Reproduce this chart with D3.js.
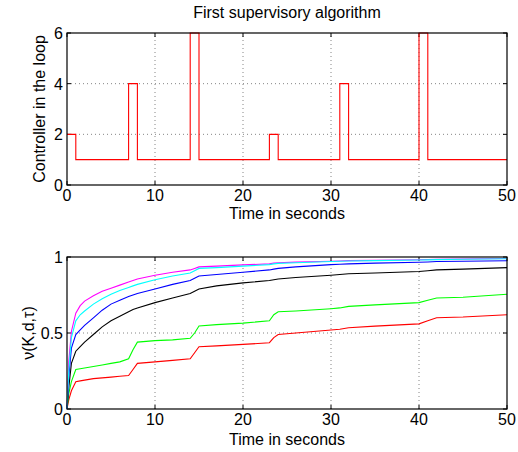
<!DOCTYPE html>
<html>
<head>
<meta charset="utf-8">
<script src="https://cdn.jsdelivr.net/npm/d3@7/dist/d3.min.js"></script>
<style>
  body { margin: 0; background: #fff; }
  svg { font-family: "Liberation Sans", Arial, Helvetica, sans-serif; }
</style>
</head>
<body>
<script>
// controller switching (step times and controller index)
const switchTimes = [0, 1, 7, 8, 14, 15, 23, 24, 31, 32, 40, 41, 50];
const controller  = [2, 1, 4, 1, 6, 1, 2, 1, 4, 1, 6, 1, 1];

// time samples for the lower plot
const time = [0, 0.2, 0.5, 1, 1.5, 2, 3, 4, 5, 6, 7, 7.5, 8, 10, 12, 14, 14.5, 15, 17, 20,
  23, 23.5, 24, 26, 30, 31, 32, 35, 40, 41, 42, 45, 50];

const nuRed = [0, 0.06, 0.12, 0.18, 0.185, 0.19, 0.20, 0.205, 0.21, 0.215, 0.22, 0.26, 0.30,
  0.31, 0.32, 0.33, 0.37, 0.41, 0.415, 0.425, 0.436, 0.47, 0.49, 0.50, 0.52, 0.525, 0.535,
  0.545, 0.56, 0.58, 0.60, 0.605, 0.62];
const nuGreen = [0, 0.10, 0.18, 0.26, 0.265, 0.27, 0.28, 0.29, 0.30, 0.31, 0.33, 0.39, 0.44,
  0.45, 0.455, 0.465, 0.50, 0.546, 0.555, 0.565, 0.58, 0.62, 0.64, 0.645, 0.66, 0.665, 0.675,
  0.685, 0.70, 0.715, 0.73, 0.735, 0.755];
const nuBlack = [0, 0.14, 0.30, 0.38, 0.41, 0.44, 0.49, 0.54, 0.58, 0.61, 0.64, 0.655, 0.665,
  0.70, 0.73, 0.76, 0.775, 0.79, 0.81, 0.83, 0.845, 0.85, 0.855, 0.865, 0.88, 0.885, 0.89,
  0.895, 0.905, 0.91, 0.915, 0.92, 0.93];
const nuBlue = [0, 0.21, 0.40, 0.49, 0.52, 0.55, 0.60, 0.65, 0.69, 0.715, 0.74, 0.75, 0.76,
  0.79, 0.82, 0.845, 0.86, 0.875, 0.885, 0.90, 0.915, 0.92, 0.925, 0.935, 0.95, 0.952, 0.955,
  0.96, 0.965, 0.967, 0.97, 0.972, 0.975];
const nuMagenta = [0, 0.31, 0.51, 0.63, 0.68, 0.71, 0.745, 0.775, 0.795, 0.815, 0.835, 0.845,
  0.855, 0.88, 0.90, 0.915, 0.925, 0.935, 0.94, 0.948, 0.955, 0.96, 0.962, 0.966, 0.972,
  0.974, 0.976, 0.978, 0.982, 0.984, 0.985, 0.987, 0.99];
const nuCyan = [0, 0.25, 0.47, 0.58, 0.62, 0.645, 0.69, 0.725, 0.755, 0.78, 0.80, 0.81, 0.82,
  0.85, 0.875, 0.895, 0.91, 0.925, 0.93, 0.94, 0.95, 0.955, 0.958, 0.962, 0.97, 0.972, 0.974,
  0.976, 0.98, 0.981, 0.983, 0.985, 0.988];

const xTicks = [0, 10, 20, 30, 40, 50];
const topYTicks = [0, 2, 4, 6];
const botYTicks = [0, 0.5, 1];

const series = [
  { values: nuRed, color: "#ff0000" },
  { values: nuGreen, color: "#00ff00" },
  { values: nuBlack, color: "#000000" },
  { values: nuBlue, color: "#0000ff" },
  { values: nuMagenta, color: "#ff00ff" },
  { values: nuCyan, color: "#00ffff" }
];

const W = 518, H = 452;
const svg = d3.select("body").append("svg").attr("width", W).attr("height", H);

const x = d3.scaleLinear().domain([0, 50]).range([67, 507]);

// draws box, grid, inward ticks and labels for one panel
function panel(y, yTicks, yFmt) {
  const g = svg.append("g");
  const [y0, y1] = y.range();
  // grid
  g.selectAll(".vg").data(xTicks.slice(1, -1)).enter().append("line")
    .attr("x1", d => x(d)).attr("x2", d => x(d)).attr("y1", y0).attr("y2", y1)
    .attr("stroke", "#666").attr("stroke-width", 0.8).attr("stroke-dasharray", "1,3");
  g.selectAll(".hg").data(yTicks.slice(1, -1)).enter().append("line")
    .attr("y1", d => y(d)).attr("y2", d => y(d)).attr("x1", 67).attr("x2", 507)
    .attr("stroke", "#666").attr("stroke-width", 0.8).attr("stroke-dasharray", "1,3");
  // inward ticks
  xTicks.forEach(t => {
    g.append("line").attr("x1", x(t)).attr("x2", x(t)).attr("y1", y0).attr("y2", y0 - 4).attr("stroke", "#000");
    g.append("line").attr("x1", x(t)).attr("x2", x(t)).attr("y1", y1).attr("y2", y1 + 4).attr("stroke", "#000");
  });
  yTicks.forEach(t => {
    g.append("line").attr("x1", 67).attr("x2", 71).attr("y1", y(t)).attr("y2", y(t)).attr("stroke", "#000");
    g.append("line").attr("x1", 507).attr("x2", 503).attr("y1", y(t)).attr("y2", y(t)).attr("stroke", "#000");
  });
  // tick labels
  g.selectAll(".xl").data(xTicks).enter().append("text")
    .attr("x", d => x(d)).attr("y", y0 + 16).attr("text-anchor", "middle")
    .attr("font-size", 16).text(d => d);
  g.selectAll(".yl").data(yTicks).enter().append("text")
    .attr("x", 63).attr("y", d => y(d) + 6).attr("text-anchor", "end")
    .attr("font-size", 16).text(yFmt);
  return g;
}

// ---- top panel ----
const yTop = d3.scaleLinear().domain([0, 6]).range([185, 33]);
const gTop = panel(yTop, topYTicks, d => d);

const stepLine = d3.line().curve(d3.curveStepAfter)
  .x((d, i) => x(switchTimes[i])).y(d => yTop(d));
gTop.append("path").attr("d", stepLine(controller))
  .attr("fill", "none").attr("stroke", "#ff0000").attr("stroke-width", 1.1);
gTop.append("rect").attr("x", 67).attr("y", 33).attr("width", 440).attr("height", 152)
  .attr("fill", "none").attr("stroke", "#000").attr("stroke-width", 1.2);

svg.append("text").attr("x", 287).attr("y", 18).attr("text-anchor", "middle")
  .attr("font-size", 16).text("First supervisory algorithm");
svg.append("text").attr("x", 287).attr("y", 219).attr("text-anchor", "middle")
  .attr("font-size", 16).text("Time in seconds");
svg.append("text").attr("transform", "translate(45,109) rotate(-90)")
  .attr("text-anchor", "middle").attr("font-size", 16).text("Controller in the loop");

// ---- bottom panel ----
const yBot = d3.scaleLinear().domain([0, 1]).range([409, 257]);
const gBot = panel(yBot, botYTicks, d => d);

const line = d3.line().x((d, i) => x(time[i])).y(d => yBot(d));
series.forEach(s => {
  gBot.append("path").attr("d", line(s.values))
    .attr("fill", "none").attr("stroke", s.color).attr("stroke-width", 1.1);
});
gBot.append("rect").attr("x", 67).attr("y", 257).attr("width", 440).attr("height", 152)
  .attr("fill", "none").attr("stroke", "#000").attr("stroke-width", 1.2);

svg.append("text").attr("x", 287).attr("y", 445).attr("text-anchor", "middle")
  .attr("font-size", 16).text("Time in seconds");
svg.append("text").attr("transform", "translate(34,333) rotate(-90)")
  .attr("text-anchor", "middle").attr("font-size", 16).text("ν(K,d,τ)");
</script>
</body>
</html>
